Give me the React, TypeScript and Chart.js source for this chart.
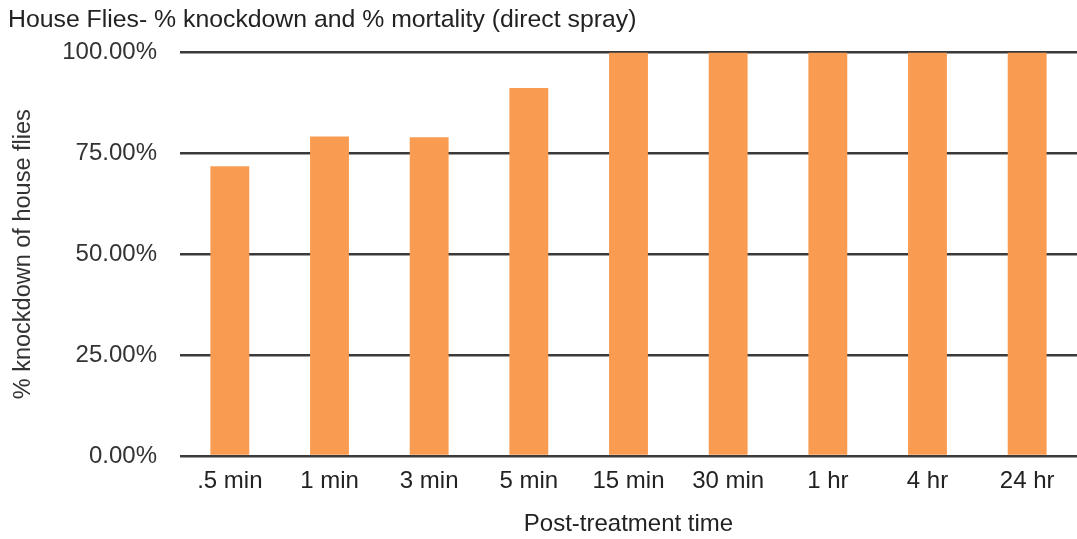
import React, { useEffect, useRef } from "react";
import { Chart, registerables } from "chart.js";

Chart.register(...registerables);

const categories = [".5 min", "1 min", "3 min", "5 min", "15 min", "30 min", "1 hr", "4 hr", "24 hr"];
const knockdownPct = [71.8, 79.2, 79.0, 91.2, 100, 100, 100, 100, 100];
const yTicks = [0, 25, 50, 75, 100];

const chartTitle = "House Flies- % knockdown and % mortality (direct spray)";
const xTitle = "Post-treatment time";
const yTitle = "% knockdown of house flies";

const FONT = "'Liberation Sans', Arial, Helvetica, sans-serif";

export default function App() {
  const ref = useRef<HTMLCanvasElement | null>(null);

  useEffect(() => {
    if (!ref.current) return;
    const chart = new Chart(ref.current, {
      type: "bar",
      data: {
        labels: categories,
        datasets: [
          {
            label: "% knockdown",
            data: knockdownPct,
            backgroundColor: "#F99B50",
            borderWidth: 0,
            barPercentage: 0.39,
            categoryPercentage: 1,
          },
        ],
      },
      options: {
        responsive: false,
        animation: false,
        layout: { padding: { left: 8, top: 0, right: 0, bottom: 0 } },
        plugins: {
          legend: { display: false },
          tooltip: { enabled: false },
          title: {
            display: true,
            text: chartTitle,
            align: "start",
            color: "#222",
            font: { family: FONT, size: 24.8, weight: "normal" },
            padding: { top: 5.6, bottom: 17.1 },
          },
        },
        scales: {
          x: {
            grid: { display: false },
            border: { display: false },
            ticks: {
              color: "#222",
              font: { family: FONT, size: 24 },
              padding: 3,
              maxRotation: 0,
              autoSkip: false,
            },
            title: {
              display: true,
              text: xTitle,
              color: "#222",
              font: { family: FONT, size: 24 },
              padding: { top: 0, bottom: 0 },
            },
            afterFit: (s: any) => {
              s.height = 83;
            },
          },
          y: {
            min: 0,
            max: 100,
            afterBuildTicks: (s: any) => {
              s.ticks = yTicks.map((v) => ({ value: v }));
            },
            grid: {
              color: "#3a3a3a",
              lineWidth: 2.5,
              drawTicks: false,
            },
            border: { display: false },
            ticks: {
              color: "#333",
              font: { family: FONT, size: 24 },
              padding: 23,
              callback: (v: any) => Number(v).toFixed(2) + "%",
            },
            title: {
              display: true,
              text: yTitle,
              color: "#333",
              font: { family: FONT, size: 23.5 },
              padding: { top: 1, bottom: 0 },
            },
            afterFit: (s: any) => {
              s.width = 172;
            },
          },
        },
      },
    });
    return () => chart.destroy();
  }, []);

  return (
    <div style={{ position: "fixed", left: 0, top: 0, width: 1077, height: 539, background: "#fff" }}>
      <canvas ref={ref} width={1077} height={539} style={{ display: "block" }} />
    </div>
  );
}
